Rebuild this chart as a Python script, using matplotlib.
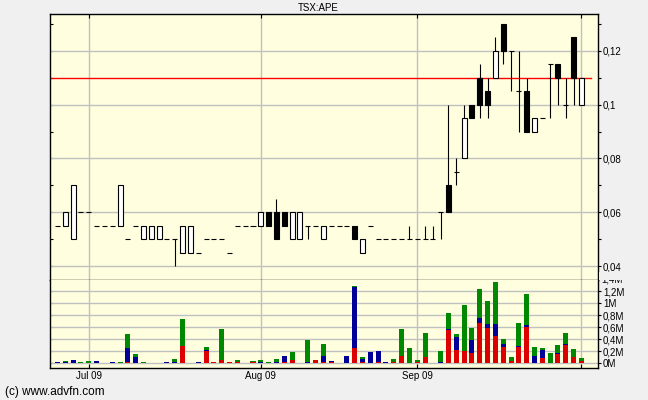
import numpy as np
import pandas as pd
import matplotlib
matplotlib.use('Agg')
import matplotlib.pyplot as plt
from matplotlib.patches import Rectangle

plt.rcParams['font.family'] = ['Liberation Sans', 'DejaVu Sans']

# trading days (TSX), 25 Jun 2009 - 1 Oct 2009
holidays = ['2009-07-01', '2009-08-03', '2009-09-07']
dates = pd.bdate_range('2009-06-25', '2009-10-01')
dates = dates[~dates.isin(pd.to_datetime(holidays))]

opens = [0.055, 0.055, 0.05, 0.06, 0.06, 0.055, 0.055, 0.055, 0.055, 0.05,
         0.055, 0.05, 0.05, 0.05, 0.05, 0.05, 0.045, 0.045, 0.045, 0.05,
         0.05, 0.05, 0.045, 0.055, 0.055, 0.055, 0.055, 0.06, 0.06, 0.06,
         0.05, 0.05, 0.055, 0.055, 0.05, 0.055, 0.055, 0.055, 0.055, 0.045,
         0.055, 0.05, 0.05, 0.05, 0.05, 0.05, 0.05, 0.05, 0.05, 0.06,
         0.07, 0.075, 0.08, 0.10, 0.11, 0.105, 0.11, 0.13, 0.12, 0.105,
         0.105, 0.09, 0.095, 0.115, 0.115, 0.10, 0.125, 0.10]
highs = [0.055, 0.06, 0.07, 0.06, 0.06, 0.055, 0.055, 0.055, 0.07, 0.05,
         0.055, 0.055, 0.055, 0.055, 0.05, 0.05, 0.055, 0.055, 0.045, 0.05,
         0.05, 0.05, 0.045, 0.055, 0.055, 0.055, 0.06, 0.06, 0.065, 0.06,
         0.06, 0.06, 0.055, 0.055, 0.055, 0.055, 0.055, 0.055, 0.055, 0.05,
         0.055, 0.05, 0.05, 0.05, 0.05, 0.055, 0.05, 0.055, 0.055, 0.06,
         0.10, 0.08, 0.10, 0.10, 0.115, 0.11, 0.125, 0.13, 0.12, 0.12,
         0.11, 0.095, 0.095, 0.115, 0.115, 0.11, 0.125, 0.11]
lows = [0.055, 0.055, 0.05, 0.06, 0.06, 0.055, 0.055, 0.055, 0.055, 0.05,
        0.055, 0.05, 0.05, 0.05, 0.05, 0.04, 0.045, 0.045, 0.045, 0.05,
        0.05, 0.05, 0.045, 0.055, 0.055, 0.055, 0.055, 0.055, 0.05, 0.055,
        0.05, 0.05, 0.05, 0.055, 0.05, 0.055, 0.055, 0.055, 0.05, 0.045,
        0.055, 0.05, 0.05, 0.05, 0.05, 0.05, 0.05, 0.05, 0.05, 0.05,
        0.06, 0.07, 0.08, 0.095, 0.095, 0.095, 0.11, 0.115, 0.105, 0.09,
        0.09, 0.09, 0.095, 0.095, 0.10, 0.095, 0.10, 0.10]
closes = [0.055, 0.06, 0.07, 0.06, 0.06, 0.055, 0.055, 0.055, 0.07, 0.05,
          0.055, 0.055, 0.055, 0.055, 0.05, 0.05, 0.055, 0.055, 0.045, 0.05,
          0.05, 0.05, 0.045, 0.055, 0.055, 0.055, 0.06, 0.055, 0.05, 0.055,
          0.06, 0.06, 0.055, 0.055, 0.055, 0.055, 0.055, 0.055, 0.05, 0.05,
          0.055, 0.05, 0.05, 0.05, 0.05, 0.05, 0.05, 0.05, 0.05, 0.06,
          0.06, 0.075, 0.095, 0.095, 0.10, 0.10, 0.12, 0.12, 0.12, 0.105,
          0.09, 0.095, 0.095, 0.115, 0.11, 0.10, 0.11, 0.11]

# volume in millions, stacked red / blue / green
vol_red = [0.01, 0.0, 0.01, 0.01, 0.01, 0.01, 0.0, 0.01, 0.01, 0.015,
           0.01, 0.0, 0.0, 0.0, 0.0, 0.01, 0.289, 0.0, 0.01, 0.206,
           0.017, 0.05, 0.017, 0.017, 0.0, 0.017, 0.01, 0.0, 0.01, 0.017,
           0.05, 0.0, 0.0, 0.056, 0.017, 0.017, 0.0, 0.01, 0.256, 0.017,
           0.01, 0.017, 0.01, 0.017, 0.122, 0.0, 0.017, 0.1, 0.0, 0.005,
           0.556, 0.217, 0.206, 0.178, 0.678, 0.589, 0.456, 0.278, 0.039, 0.278,
           0.606, 0.01, 0.089, 0.0, 0.15, 0.306, 0.111, 0.044]
vol_blue = [0.018, 0.015, 0.045, 0.0, 0.0, 0.029, 0.0, 0.012, 0.0, 0.24,
            0.096, 0.0, 0.0, 0.0, 0.022, 0.02, 0.0, 0.0, 0.012, 0.017,
            0.0, 0.01, 0.0, 0.0, 0.0, 0.0, 0.017, 0.0, 0.02, 0.1,
            0.01, 0.0, 0.017, 0.0, 0.11, 0.022, 0.0, 0.112, 1.017, 0.05,
            0.179, 0.189, 0.012, 0.0, 0.0, 0.0, 0.01, 0.0, 0.0, 0.015,
            0.017, 0.222, 0.0, 0.211, 0.078, 0.067, 0.2, 0.044, 0.0, 0.017,
            0.033, 0.12, 0.128, 0.0, 0.022, 0.011, 0.0, 0.0]
vol_green = [0.0, 0.025, 0.0, 0.012, 0.029, 0.0, 0.0, 0.0, 0.012, 0.235,
             0.05, 0.017, 0.0, 0.0, 0.0, 0.05, 0.455, 0.0, 0.0, 0.055,
             0.0, 0.512, 0.0, 0.039, 0.0, 0.022, 0.029, 0.022, 0.042, 0.011,
             0.134, 0.0, 0.372, 0.0, 0.195, 0.0, 0.0, 0.0, 0.017, 0.044,
             0.0, 0.0, 0.0, 0.055, 0.45, 0.256, 0.029, 0.406, 0.0, 0.18,
             0.266, 0.05, 0.766, 0.2, 0.483, 0.383, 0.7, 0.084, 0.067, 0.377,
             0.517, 0.142, 0.039, 0.172, 0.133, 0.189, 0.128, 0.044]

ref_price = 0.11
month_labels = ['Jul 09', 'Aug 09', 'Sep 09', '']

x = np.arange(len(dates))
month_pos = [i for i in range(1, len(dates)) if dates[i].month != dates[i - 1].month]

o = np.array(opens); h = np.array(highs); l = np.array(lows); c = np.array(closes)
vr = np.array(vol_red); vb = np.array(vol_blue); vg = np.array(vol_green)

bg = '#F0F0F0'
panel = '#FFFFE0'
gridc = '#C0C0C0'

fig = plt.figure(figsize=(6.48, 4.0), dpi=100, facecolor=bg)
ax = fig.add_axes([50 / 648, 1 - 280 / 400, 548 / 648, 266 / 400], facecolor=panel)
axv = fig.add_axes([50 / 648, 1 - 368 / 400, 548 / 648, 88 / 400], facecolor=panel, sharex=ax)

w = 0.64
lw = 0.8
# candles
for i in x:
    if h[i] > l[i]:
        ax.vlines(i, l[i], h[i], color='k', lw=lw, zorder=3)
    if c[i] != o[i]:
        ax.bar(i, abs(c[i] - o[i]), bottom=min(o[i], c[i]), width=w,
               facecolor='white' if c[i] > o[i] else 'black',
               edgecolor='k', lw=lw, zorder=4)
    else:
        ax.hlines(o[i], i - w / 2, i + w / 2, color='k', lw=lw, zorder=4)

ax.axhline(ref_price, xmin=0, xmax=0.987, color='#FF0000', lw=1, zorder=2)

# volume
axv.bar(x, vr, width=w, color='#DD0000', zorder=3)
axv.bar(x, vb, width=w, bottom=vr, color='#000099', zorder=3)
axv.bar(x, vg, width=w, bottom=vr + vb, color='#008800', zorder=3)

ax.set_xlim(-0.96, 69.12)
ax.set_ylim(0.0348, 0.1337)
axv.set_ylim(-0.078, 1.388)

# price axis
pt = [0.04, 0.06, 0.08, 0.10, 0.12]
ax.set_yticks(pt)
ax.set_yticks([0.05, 0.07, 0.09, 0.11, 0.13], minor=True)
ax.set_yticklabels([f'{v:g}'.replace('.', ',') for v in pt])
ax.tick_params(axis='y', which='both', left=False, right=True, labelleft=False,
               labelright=True, direction='out', length=2.5, width=0.8,
               pad=1, labelsize=7)
sl = ax.secondary_yaxis('left')
sl.set_yticks(pt + [0.05, 0.07, 0.09, 0.11, 0.13])
sl.tick_params(direction='in', length=2.5, width=0.8, labelleft=False)
sl.spines['left'].set_visible(False)

ax.set_xticks(month_pos)
ax.tick_params(axis='x', bottom=False, top=True, labelbottom=False,
               direction='in', length=3, width=0.8)
ax.grid(True, color=gridc, lw=1, zorder=0)
ax.set_axisbelow(True)

# volume axis
vt = [0, 0.2, 0.4, 0.6, 0.8, 1.0, 1.2]
axv.set_yticks(vt)
axv.set_yticklabels([f'{v:g}'.replace('.', ',') + 'M' for v in vt])
axv.tick_params(axis='y', left=False, right=True, labelleft=False, labelright=True,
                direction='out', length=2.5, width=0.8, pad=1, labelsize=7)
sv = axv.secondary_yaxis('left')
sv.set_yticks(vt)
sv.tick_params(direction='in', length=2.5, width=0.8, labelleft=False)
sv.spines['left'].set_visible(False)
# top label is cut off by the price panel in the original
axv.text(1.0 + 3.5 / 548, 1.4, '1,4M', transform=axv.get_yaxis_transform(),
         va='center', ha='left', fontsize=7, clip_on=False)
fig.patches.append(Rectangle((599 / 648, 1 - 280 / 400), 49 / 648, 8 / 400,
                             transform=fig.transFigure, facecolor=bg,
                             edgecolor='none', zorder=10))

axv.set_xticks(month_pos)
axv.set_xticklabels(month_labels[:len(month_pos)])
axv.tick_params(axis='x', bottom=True, top=False, direction='in', length=3,
                width=0.8, pad=2, labelsize=7)
axv.grid(True, color=gridc, lw=1, zorder=0)
axv.set_axisbelow(True)
axv.spines['top'].set_visible(False)

for a in (ax, axv):
    for s in a.spines.values():
        s.set_linewidth(1)
        s.set_color('k')

fig.text(0.491, 0.98, 'TSX:APE', ha='center', va='center', fontsize=7)
fig.text(0.008, 0.02, '(c) www.advfn.com', ha='left', va='center', fontsize=8.5)

fig.savefig('out.png', dpi=100, facecolor=bg)
